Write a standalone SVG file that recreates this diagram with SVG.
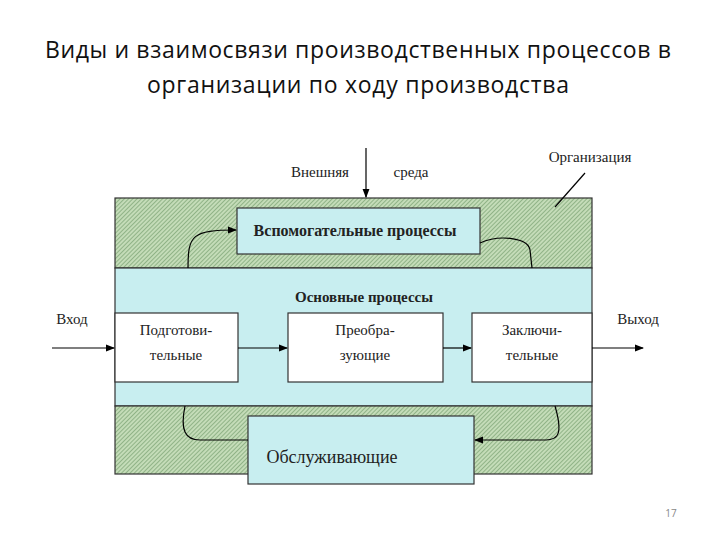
<svg xmlns="http://www.w3.org/2000/svg" width="720" height="540" viewBox="0 0 720 540">
<defs>
<pattern id="h" width="3" height="3" patternUnits="userSpaceOnUse" patternTransform="rotate(45)">
<rect width="3" height="3" fill="#c4dcb8"/><line x1="0" y1="0" x2="0" y2="3" stroke="#5d8a57" stroke-width="1"/>
</pattern>
<marker id="a" markerWidth="8" markerHeight="8" refX="7" refY="4" orient="auto"><path d="M0,1 L8,4 L0,7 Z" fill="#000"/></marker>
<style>
.t{font-family:"Liberation Serif",serif;fill:#222}
.b{stroke:#333;stroke-width:1.2}
.c{fill:none;stroke:#000;stroke-width:1.2}
</style>
</defs>
<rect width="720" height="540" fill="#fff"/>
<text x="358" y="58" text-anchor="middle" font-family="Open Sans, sans-serif" font-size="23" textLength="626" fill="#111">Виды и взаимосвязи производственных процессов в</text>
<text x="358" y="93" text-anchor="middle" font-family="Open Sans, sans-serif" font-size="23" textLength="422" fill="#111">организации по ходу производства</text>
<g id="org">
<rect x="115" y="198" width="477" height="70" fill="url(#h)" class="b"/>
<rect x="115" y="268" width="477" height="138" fill="#c8eef0" class="b"/>
<rect x="115" y="406" width="477" height="68" fill="url(#h)" class="b"/>
<text x="590" y="162" text-anchor="middle" class="t" font-size="15">Организация</text>
<text x="364" y="302" text-anchor="middle" class="t" font-size="15" font-weight="bold">Основные процессы</text>
</g>
<g id="env"><text x="320" y="177" text-anchor="middle" class="t" font-size="15">Внешняя</text><text x="411" y="177" text-anchor="middle" class="t" font-size="15">среда</text></g>
<g id="aux"><rect x="237" y="208" width="243" height="46" fill="#c8eef0" class="b"/><text x="355" y="236" text-anchor="middle" class="t" font-size="16" font-weight="bold">Вспомогательные процессы</text></g>
<g id="prep"><rect x="115" y="313" width="123" height="69" fill="#fff" class="b"/><text x="176" y="335" text-anchor="middle" class="t" font-size="15">Подготови-</text><text x="176" y="360" text-anchor="middle" class="t" font-size="15">тельные</text></g>
<g id="trans"><rect x="288" y="313" width="155" height="69" fill="#fff" class="b"/><text x="365" y="335" text-anchor="middle" class="t" font-size="15">Преобра-</text><text x="365" y="360" text-anchor="middle" class="t" font-size="15">зующие</text></g>
<g id="fin"><rect x="472" y="313" width="120" height="69" fill="#fff" class="b"/><text x="532" y="335" text-anchor="middle" class="t" font-size="15">Заключи-</text><text x="532" y="360" text-anchor="middle" class="t" font-size="15">тельные</text></g>
<g id="serv"><rect x="248" y="416" width="226" height="68" fill="#c8eef0" class="b"/><text x="332" y="463" text-anchor="middle" class="t" font-size="18">Обслуживающие</text></g>
<g id="io"><text x="72" y="324" text-anchor="middle" class="t" font-size="15">Вход</text><text x="638" y="324" text-anchor="middle" class="t" font-size="15">Выход</text></g>
<g id="connectors">
<line x1="366" y1="148" x2="366" y2="197" class="c" marker-end="url(#a)"/>
<line x1="585" y1="173" x2="555" y2="207" class="c" stroke-width="2"/>
<line x1="52" y1="348" x2="114" y2="348" class="c" marker-end="url(#a)"/>
<line x1="238" y1="348" x2="287" y2="348" class="c" marker-end="url(#a)"/>
<line x1="443" y1="348" x2="471" y2="348" class="c" marker-end="url(#a)"/>
<line x1="592" y1="348" x2="643" y2="348" class="c" marker-end="url(#a)"/>
<path d="M188,268 C188,235 192,230 236,230" class="c" marker-end="url(#a)"/>
<path d="M480,243 C500,234 528,238 530,250 L532,268" class="c"/>
<path d="M185,406 C180,430 185,440 200,440 L248,440" class="c"/>
<path d="M555,406 C565,440 555,440 540,440 L475,440" class="c" marker-end="url(#a)"/>
</g>
<text x="671" y="517" text-anchor="middle" font-family="Open Sans, sans-serif" font-size="10" fill="#888">17</text>
</svg>
